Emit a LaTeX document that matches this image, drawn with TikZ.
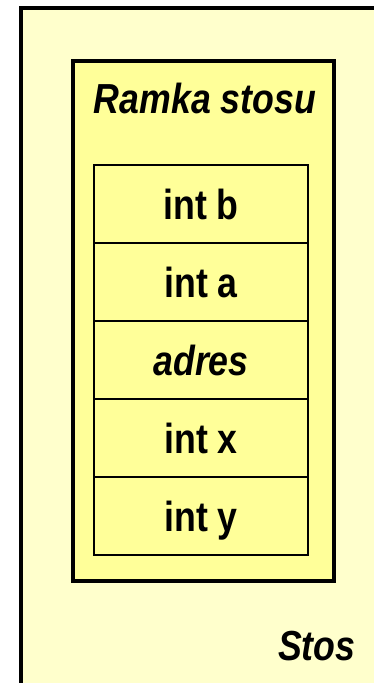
\documentclass[tikz,border=0pt]{standalone}
\usepackage{fontspec}
\setmainfont{Liberation Sans}[FakeStretch=0.85]
\usepackage{tikz}

\begin{document}
\begin{tikzpicture}[x=1pt,y=-1pt,
  cellbox/.style={draw=black,line width=2.5pt,fill=framecolor,minimum width=214pt,minimum height=78pt,
    inner sep=0pt,text height=30pt,text depth=0pt,font=\fontsize{42}{48}\selectfont\bfseries}]
\definecolor{stackcolor}{RGB}{255,255,204}
\definecolor{framecolor}{RGB}{255,255,153}
\useasboundingbox (0,0) rectangle (374,683);
\clip (0,0) rectangle (374,683);
% stos
\draw [line width=4pt,fill=stackcolor,draw=black] (21,8) rectangle (400,720);
\node [anchor=base east,font=\fontsize{42}{48}\selectfont\bfseries\itshape] (stos) at (359,660) {Stos};
% ramka stosu
\node [draw=black,line width=4pt,fill=framecolor,minimum width=261pt,minimum height=520pt,inner sep=0pt] (ramka) at (203.4,320.7) {};
\node [anchor=base,font=\fontsize{42}{48}\selectfont\bfseries\itshape] (ramkatitle) at (205,113) {Ramka stosu};
\node [cellbox] (b) at (201,204) {int b};
\node [cellbox] (a) at (201,282) {int a};
\node [cellbox,font=\fontsize{42}{48}\selectfont\bfseries\itshape] (adres) at (201,360) {adres};
\node [cellbox] (x) at (201,438) {int x};
\node [cellbox] (y) at (201,516) {int y};
\end{tikzpicture}
\end{document}
